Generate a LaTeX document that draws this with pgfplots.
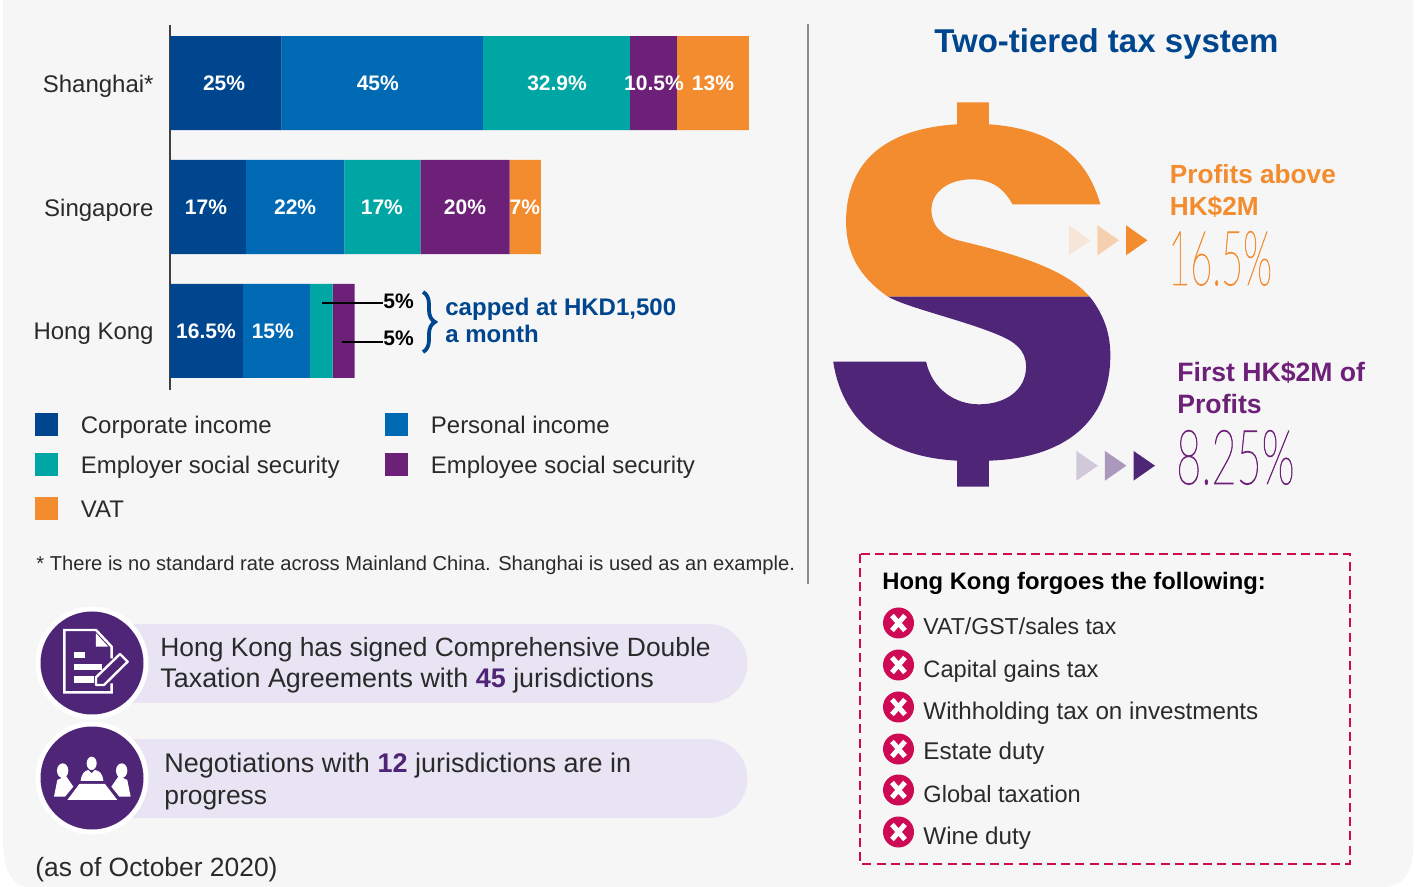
\documentclass[border=0pt]{standalone}
\usepackage{fontspec}
\usepackage{pgfplots}
\usepackage{pgfplotstable}
\pgfplotsset{compat=1.18}
\usetikzlibrary{decorations.pathreplacing}
\setmainfont{Liberation Sans}
\newfontfamily\thinfont[FakeBold=1.2]{Lato Thin}

\definecolor{bgc}{HTML}{F6F6F6}
\definecolor{dblue}{HTML}{00468F}
\definecolor{mblue}{HTML}{0069B4}
\definecolor{teal2}{HTML}{00A6A4}
\definecolor{purp}{HTML}{6D2077}
\definecolor{oran}{HTML}{F28C2E}
\definecolor{dpurp}{HTML}{4F2577}
\definecolor{lav}{HTML}{E8E4F3}
\definecolor{crim}{HTML}{CF0A55}
\definecolor{ink}{HTML}{2A2A2A}

% bar lengths as drawn; the Shanghai VAT bar is longer than its 13% label
\pgfplotstableread{
y corp pers empr empe vat
2 25   45   32.9 10.5 16.1
1 17   22   17   20   7
0 16.3 15   5.1  4.9  0
}\taxdata

\newcommand{\fs}[1]{\fontsize{#1}{#1}\selectfont}

\begin{document}
\begin{tikzpicture}[x=0.5pt,y=-0.5pt,
    txt/.style={anchor=base west,inner sep=0pt,text=ink}]
\path[use as bounding box] (0,0) rectangle (1415,887);
\fill[white] (0,0) rectangle (1415,887);
\fill[bgc] (3,-2) -- (1413,-2) -- (1413,848) .. controls (1413,875) and (1400,887) .. (1385,887)
    -- (30,887) .. controls (12,887) and (3,870) .. (3,840) -- cycle;

\begin{axis}[
    at={(85pt,-195pt)}, anchor=south west,
    scale only axis, width=290.5pt, height=182.5pt,
    xbar stacked, bar width=47pt,
    xmin=0, xmax=130, ymin=-0.476, ymax=2.468,
    hide x axis, axis y line*=left,
    y axis line style={-,draw=black!75,line width=0.6pt},
    ytick={0,1,2}, yticklabels={Hong Kong,Singapore,Shanghai*},
    major tick length=0pt,
    yticklabel style={font=\fs{12},text=ink,xshift=-8pt,yshift=-1.4pt,inner sep=0pt},
    clip=false,
]
\addplot[draw=none,fill=dblue] table[x=corp,y=y] {\taxdata};
\addplot[draw=none,fill=mblue] table[x=pers,y=y] {\taxdata};
\addplot[draw=none,fill=teal2] table[x=empr,y=y] {\taxdata};
\addplot[draw=none,fill=purp] table[x=empe,y=y] {\taxdata};
\addplot[draw=none,fill=oran] table[x=vat,y=y] {\taxdata};
\end{axis}
% second axis on the same box, only for the labels on the bars
\begin{axis}[
    at={(85pt,-195pt)}, anchor=south west,
    scale only axis, width=290.5pt, height=182.5pt,
    xmin=0, xmax=130, ymin=-0.476, ymax=2.468,
    hide axis, clip=false,
]
\addplot[only marks,mark=none,point meta=explicit symbolic,nodes near coords,
    every node near coord/.style={anchor=center,inner sep=0pt,text=white,font=\fs{10.5}\bfseries}]
  coordinates {
    (12.1,2) [25\%] (46.5,2) [45\%] (86.6,2) [32.9\%] (108.3,2) [10.5\%] (121.5,2) [13\%]
    (8.05,1) [17\%] (28,1) [22\%] (47.4,1) [17\%] (66,1) [20\%] (79.4,1) [7\%]
    (8.05,0) [16.5\%] (23,0) [15\%]
  };
\end{axis}

% leaders and brace
\draw[black,line width=0.6pt] (322,303) -- (383,303);
\draw[black,line width=0.6pt] (342,342) -- (383,342);
\node[anchor=base west,inner sep=0pt,font=\fs{10.5}\bfseries] at (383,309) {5\%};
\node[anchor=base west,inner sep=0pt,font=\fs{10.5}\bfseries] at (383,346) {5\%};
\draw[dblue,line width=1.9pt,decorate,decoration={brace,amplitude=6pt}] (423,292) -- (423,352);
\node[txt,text=dblue,font=\fs{12}\bfseries] at (445,316) {capped at HKD1,500};
\node[txt,text=dblue,font=\fs{12}\bfseries] at (445,343) {a month};

% legend
\foreach \x/\y/\c/\t in {35/413/dblue/Corporate income,385/413/mblue/Personal income,
    35/453/teal2/Employer social security,385/453/purp/Employee social security,35/497/oran/VAT}{
  \fill[\c] (\x,\y) rectangle ++(23,23);
  \node[txt,font=\fs{12}] at (\x+45.5,\y+21) {\t};
}
\node[txt,font=\fs{10.07}] at (36,571) {* There is no standard rate across Mainland China. Shanghai is used as an example.};
\draw[black!45,line width=0.6pt] (808,24) -- (808,584);

% pills
\fill[lav] (120,624) -- (708,624) arc[start angle=-90,end angle=90,radius=39.5] -- (120,703) -- cycle;
\fill[lav] (120,739) -- (708,739) arc[start angle=-90,end angle=90,radius=39.5] -- (120,818) -- cycle;
\fill[white] (92,663) circle[radius=56.5];
\fill[dpurp] (92,663) circle[radius=51.5];
\fill[white] (92,778) circle[radius=56.5];
\fill[dpurp] (92,778) circle[radius=51.5];
\begin{scope}[shift={(20,600)},xscale=1/3,yscale=1/3]
  % document
  \draw[white,line width=1.2pt] (275,250) -- (275,277) -- (133,277) -- (133,90) -- (228,90) -- (275,140) -- (275,175);
  \fill[white] (228,100) -- (265,140) -- (228,140) -- cycle;
  \fill[white] (162,156) rectangle (195,174);
  \fill[white] (162,192) rectangle (245,210);
  \fill[white] (162,228) rectangle (222,248);
  \draw[white,line width=1.2pt,fill=dpurp,line join=round] (228,232) -- (300,162) -- (323,185) -- (252,255) -- (228,255) -- cycle;
  % people round a table
  \fill[white] (215,490) ellipse[x radius=15,y radius=20];
  \fill[white] (182,543) .. controls (184,520) and (195,512) .. (205,510) -- (215,520) -- (225,510) .. controls (238,512) and (248,520) .. (250,543) -- cycle;
  \fill[white] (128,512) ellipse[x radius=17,y radius=22];
  \fill[white] (102,590) -- (112,540) -- (138,528) -- (160,560) -- (135,590) -- cycle;
  \fill[white] (305,512) ellipse[x radius=17,y radius=22];
  \fill[white] (332,590) -- (322,540) -- (296,528) -- (274,560) -- (298,590) -- cycle;
  \fill[white] (142,600) -- (292,600) -- (255,552) -- (178,552) -- cycle;
\end{scope}
\node[txt,font=\fs{13.2}] at (160,657) {Hong Kong has signed Comprehensive Double};
\node[txt,font=\fs{13.45}] at (160,688) {Taxation Agreements with \textcolor{dpurp}{\bfseries 45} jurisdictions};
\node[txt,font=\fs{13.5}] at (164,772) {Negotiations with \textcolor{dpurp}{\bfseries 12} jurisdictions are in};
\node[txt,font=\fs{13.2}] at (164,804) {progress};
\node[txt,font=\fs{13.2}] at (35,876) {(as of October 2020)};

% right panel
\node[txt,text=dblue,font=\fs{16.5}\bfseries] at (934,52.5) {Two-tiered tax system};
\begin{scope}[shift={(820,90)},xscale=1/2.8,yscale=1/3]
  \fill[oran] (384,37) -- (473,37) -- (473,103) .. controls (640,115) and (745,190) .. (785,343)
    -- (539,343) .. controls (515,295) and (480,268) .. (425,268) .. controls (360,268) and (312,305) .. (312,360)
    .. controls (312,410) and (345,440) .. (390,452) .. controls (560,495) and (690,540) .. (755,620)
    -- (190,620) .. controls (110,560) and (73,490) .. (73,395) .. controls (73,210) and (190,115) .. (384,103) -- cycle;
  \fill[dpurp] (190,620) -- (755,620) .. controls (800,680) and (813,740) .. (813,795)
    .. controls (813,1000) and (680,1105) .. (473,1112) -- (473,1190) -- (384,1190) -- (384,1112)
    .. controls (170,1100) and (60,980) .. (37,815) -- (297,815) .. controls (315,900) and (380,943) .. (445,943)
    .. controls (520,943) and (577,900) .. (577,830) .. controls (577,780) and (545,755) .. (500,735)
    .. controls (400,690) and (250,655) .. (190,620) -- cycle;
  \fill[oran!15!bgc] (697,406) -- (757,451) -- (697,496) -- cycle;
  \fill[oran!36!bgc] (777,406) -- (837,451) -- (777,496) -- cycle;
  \fill[oran] (857,406) -- (917,451) -- (857,496) -- cycle;
  \fill[dpurp!22!bgc] (718,1083) -- (778,1127) -- (718,1172) -- cycle;
  \fill[dpurp!45!bgc] (798,1083) -- (858,1127) -- (798,1172) -- cycle;
  \fill[dpurp] (878,1083) -- (938,1127) -- (878,1172) -- cycle;
\end{scope}
\node[txt,text=oran,font=\fs{13.1}\bfseries] at (1169.5,184) {Profits above};
\node[txt,text=oran,font=\fs{13.1}\bfseries] at (1169.5,216) {HK\$2M};
\node[txt,text=purp,font=\fs{13.3}\bfseries] at (1177,382) {First HK\$2M of};
\node[txt,text=purp,font=\fs{13.3}\bfseries] at (1177,414) {Profits};
\node[txt,text=oran,xscale=0.5,font=\thinfont\fs{38}] at (1168,285) {16.5\%};
\node[txt,text=purp,xscale=0.57,font=\thinfont\fs{38}] at (1176,484) {8.25\%};

% forgoes box
\draw[crim,line width=1.3pt,dash pattern=on 4.5pt off 2.6pt] (860,554) rectangle (1350,864);
\node[txt,text=black,font=\fs{11.9}\bfseries] at (882,590) {Hong Kong forgoes the following:};
\foreach \y/\b/\s/\t in {623/635/11.55/{VAT/GST/sales tax},665/677/11.85/Capital gains tax,707/719/12.1/Withholding tax on investments,
    749/760/12.1/Estate duty,790/802/11.8/Global taxation,832/844/12.1/Wine duty}{
  \fill[crim] (898.5,\y) circle[radius=15.5];
  \draw[white,line width=2.5pt] (892,\y-7.5) -- (905,\y+7.5) (905,\y-7.5) -- (892,\y+7.5);
  \node[txt,font=\fs{\s}] at (923,\b) {\t};
}
\end{tikzpicture}
\end{document}
